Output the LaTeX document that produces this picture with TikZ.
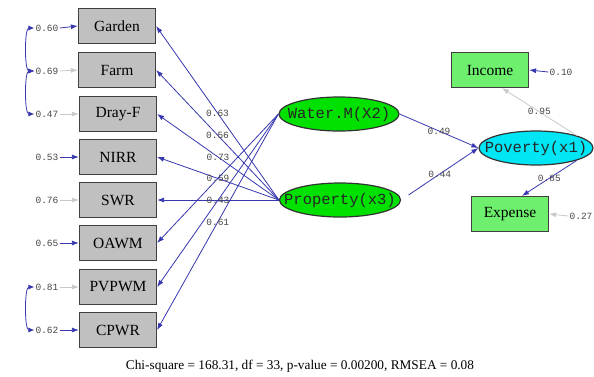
\documentclass[tikz,border=0pt]{standalone}
\usepackage{fontspec}
\setmainfont{Liberation Serif}
\newfontfamily\lismono{Liberation Mono}
\usetikzlibrary{shapes.geometric,arrows.meta}
\definecolor{boxgray}{RGB}{192,192,192}
\definecolor{latgreen}{RGB}{0,225,0}
\definecolor{indgreen}{RGB}{110,240,110}
\definecolor{povcyan}{RGB}{0,230,245}
\definecolor{pathblue}{RGB}{55,55,175}
\definecolor{errgray}{RGB}{200,200,200}
\definecolor{numgray}{RGB}{70,70,70}
\tikzset{block/.style = {draw=black!75, fill=boxgray, line width=1.2pt, rectangle, minimum height=35pt, minimum width=77pt, font=\fontsize{15.5}{15.5}\selectfont},
         indic/.style = {block, fill=indgreen},
         latent/.style = {draw=black!80, fill=latgreen, line width=1.2pt, ellipse, minimum height=34pt, inner xsep=-20pt, inner ysep=0pt, text=black!85, font=\lismono\fontsize{15.5}{15.5}\selectfont},
         est/.style = {font=\lismono\fontsize{9.5}{9.5}\selectfont, text=numgray, inner sep=1pt},
         load/.style = {draw=pathblue, line width=0.8pt, -{Latex[length=7pt,width=5pt]}},
         fixd/.style = {draw=errgray, line width=0.8pt, -{Latex[length=7pt,width=5pt]}},
         cov/.style = {draw=pathblue, line width=0.8pt, {Latex[length=6pt,width=5pt]}-{Latex[length=6pt,width=5pt]}}}
\begin{document}
\begin{tikzpicture}[x=1pt,y=-1pt]
        \useasboundingbox (0,0) rectangle (594,376);
        % observed indicators
        \node[block](Garden)at(117,26){Garden};
        \node[block](Farm)at(117,70){Farm};
        \node[block](DrayF)at(118,114){Dray-F};
        \node[block](NIRR)at(118,157){NIRR};
        \node[block](SWR)at(118,200){SWR};
        \node[block](OAWM)at(118,243){OAWM};
        \node[block](PVPWM)at(118,287){PVPWM};
        \node[block](CPWR)at(118,330){CPWR};
        \node[indic](Income)at(490,70){Income};
        \node[indic](Expense)at(510,214){Expense};
        % latent variables
        \node[latent, minimum width=120pt](Water)at(339,114){Water.M(X2)};
        \node[latent, minimum width=121pt](Property)at(340,200){Property(x3)};
        \node[latent, fill=povcyan, minimum width=114pt](Poverty)at(536,148){Poverty(x1)};
        % error variances
        \node[est](eGarden)at(47,28){0.60};
        \node[est](eFarm)at(47,71){0.69};
        \node[est](eDrayF)at(47,114){0.47};
        \node[est](eNIRR)at(47,157){0.53};
        \node[est](eSWR)at(47,200){0.76};
        \node[est](eOAWM)at(47,243){0.65};
        \node[est](ePVPWM)at(47,287){0.81};
        \node[est](eCPWR)at(47,330){0.62};
        \node[est](eIncome)at(561,72){0.10};
        \node[est](eExpense)at(581,216){0.27};
        \draw[load](eGarden.east)--(Garden.west);
        \draw[fixd](eFarm.east)--(Farm.west);
        \draw[fixd](eDrayF.east)--(DrayF.west);
        \draw[load](eNIRR.east)--(NIRR.west);
        \draw[fixd](eSWR.east)--(SWR.west);
        \draw[load](eOAWM.east)--(OAWM.west);
        \draw[fixd](ePVPWM.east)--(PVPWM.west);
        \draw[load](eCPWR.east)--(CPWR.west);
        \draw[load](eIncome.west)--(Income.east);
        \draw[fixd](eExpense.west)--(Expense.east);
        % error covariances
        \draw[cov](eGarden.west)to[out=180,in=180,looseness=0.6](eFarm.west);
        \draw[cov](eFarm.west)to[out=180,in=180,looseness=0.6](eDrayF.west);
        \draw[cov](ePVPWM.west)to[out=180,in=180,looseness=0.6](eCPWR.west);
        % loadings
        \draw[load](Property.west)--node[est]{0.63}(Garden.east);
        \draw[load](Property.west)--node[est]{0.56}(Farm.east);
        \draw[load](Property.west)--node[est]{0.73}(DrayF.east);
        \draw[load](Property.west)--node[est]{0.59}(NIRR.east);
        \draw[load](Property.west)--node[est]{0.43}(SWR.east);
        \draw[load](Water.west)--(OAWM.east);
        \draw[load](Water.west)--(PVPWM.east);
        \draw[load](Water.west)--node[est]{0.61}(CPWR.east);
        % structural part
        \draw[load](Water.east)--node[est]{0.49}(Poverty.west);
        \draw[load,shorten <=9pt](Property.east)--node[est]{0.44}(Poverty.west);
        \draw[fixd](Poverty.north east)--node[est]{0.95}([xshift=12pt]Income.south);
        \draw[load](Poverty.south east)--node[est]{0.85}([xshift=12pt]Expense.north);
        \node[font=\fontsize{13.3}{13.3}\selectfont](fit)at(300,366){Chi-square = 168.31, df = 33, p-value = 0.00200, RMSEA = 0.08};
\end{tikzpicture}
\end{document}
